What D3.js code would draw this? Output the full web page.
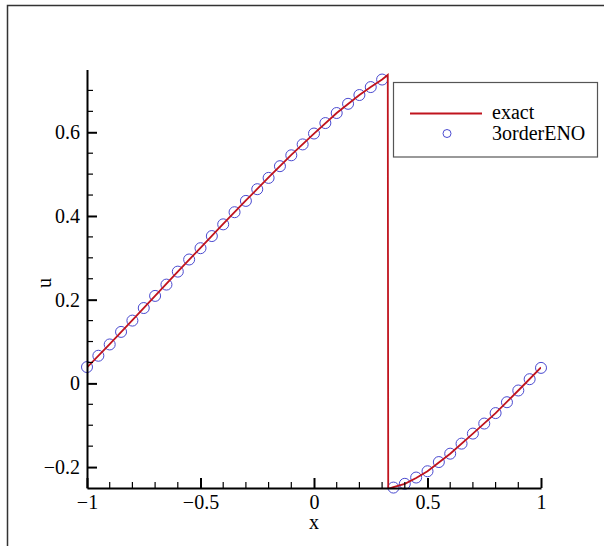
<!DOCTYPE html>
<html>
<head>
<meta charset="utf-8">
<script src="https://cdn.jsdelivr.net/npm/d3@7/dist/d3.min.js"></script>
<style>
  html, body { margin: 0; padding: 0; background: #fff; }
  svg { display: block; }
  text { font-family: "Liberation Serif", "Times New Roman", serif; fill: #000; }
</style>
</head>
<body>
<svg id="chart" width="604" height="546"></svg>
<script>
// Numerical solution (3rd-order ENO) sampled at the cell points
const enoX = [-1, -0.95, -0.9, -0.85, -0.8, -0.75, -0.7, -0.65, -0.6, -0.55,
              -0.5, -0.45, -0.4, -0.35, -0.3, -0.25, -0.2, -0.15, -0.1, -0.05,
              0, 0.05, 0.1, 0.15, 0.2, 0.25, 0.3,
              0.35, 0.4, 0.45, 0.5, 0.55, 0.6, 0.65, 0.7, 0.75, 0.8, 0.85, 0.9, 0.95, 1];
const enoU = [0.039, 0.066, 0.093, 0.123, 0.150, 0.180, 0.209, 0.236, 0.267, 0.296,
              0.323, 0.352, 0.380, 0.409, 0.436, 0.464, 0.491, 0.519, 0.545, 0.571,
              0.597, 0.622, 0.646, 0.668, 0.689, 0.708, 0.726,
              -0.249, -0.240, -0.225, -0.210, -0.188, -0.168, -0.144, -0.120, -0.096, -0.071, -0.045, -0.017, 0.010, 0.037];

// Exact solution, with the shock near x = 0.325
const exactX = [-1, -0.9, -0.8, -0.7, -0.6, -0.5, -0.4, -0.3, -0.2, -0.1,
                0, 0.1, 0.2, 0.25, 0.3, 0.325,
                0.327, 0.35, 0.4, 0.45, 0.5, 0.6, 0.7, 0.8, 0.9, 1];
const exactU = [0.038, 0.094, 0.151, 0.209, 0.267, 0.324, 0.381, 0.437, 0.492, 0.546,
                0.597, 0.646, 0.689, 0.708, 0.726, 0.737,
                -0.252, -0.248, -0.240, -0.226, -0.210, -0.168, -0.120, -0.071, -0.017, 0.038];

const xMajor = [-1, -0.5, 0, 0.5, 1];
const xMajorLabels = ["\u22121", "\u22120.5", "0", "0.5", "1"];
const yMajor = [-0.2, 0, 0.2, 0.4, 0.6];
const yMajorLabels = ["\u22120.2", "0", "0.2", "0.4", "0.6"];
const xMinor = [-0.9, -0.8, -0.7, -0.6, -0.4, -0.3, -0.2, -0.1, 0.1, 0.2, 0.3, 0.4, 0.6, 0.7, 0.8, 0.9];
const yMinor = [-0.15, -0.1, -0.05, 0.05, 0.1, 0.15, 0.25, 0.3, 0.35, 0.45, 0.5, 0.55, 0.65, 0.7];

const legendNames = ["exact", "3orderENO"];
const lineColor = "#c0141e";
const markColor = "#4a4ad0";

const svg = d3.select("#chart");

// outer frame (top and left edges)
svg.append("path")
  .attr("d", "M7.5,546 L7.5,5.5 L604,5.5")
  .attr("fill", "none").attr("stroke", "#333").attr("stroke-width", 1.5);

const x = d3.scaleLinear().domain([-1, 1]).range([87, 541]);
const y = d3.scaleLinear().domain([-0.25, 0.75]).range([488, 69.5]);

const plot = svg.append("g");
plot.append("defs").append("clipPath").attr("id", "clip")
  .append("rect").attr("x", 87).attr("y", 69).attr("width", 454).attr("height", 420);

// ENO markers
plot.append("g").selectAll("circle")
  .data(enoX.map((d, i) => [d, enoU[i]]))
  .join("circle")
  .attr("cx", d => x(d[0])).attr("cy", d => y(d[1]))
  .attr("r", 5.5)
  .attr("fill", "none").attr("stroke", markColor).attr("stroke-width", 1);

// exact solution line
const line = d3.line().x(d => x(d[0])).y(d => y(d[1]));
plot.append("path")
  .datum(exactX.map((d, i) => [d, exactU[i]]))
  .attr("d", line)
  .attr("fill", "none").attr("stroke", lineColor).attr("stroke-width", 1.8)
  .attr("clip-path", "url(#clip)");

// axes: ticks point inward
const axisG = svg.append("g");
const xAxis = d3.axisBottom(x).tickValues(xMajor).tickSizeInner(-10).tickSizeOuter(0)
  .tickFormat((d, i) => xMajorLabels[i]).tickPadding(14);
const xg = axisG.append("g").attr("transform", "translate(0,488)").call(xAxis);
xg.select(".domain").attr("stroke", "#000").attr("stroke-width", 2);
xg.selectAll(".tick line").attr("stroke", "#000").attr("stroke-width", 2);
xg.selectAll(".tick text").attr("font-size", 20).attr("font-family", "Liberation Serif").attr("dy", "0.71em").attr("y", 7);
xg.append("g").selectAll("line").data(xMinor).join("line")
  .attr("x1", d => x(d)).attr("x2", d => x(d)).attr("y1", 0).attr("y2", -6)
  .attr("stroke", "#000").attr("stroke-width", 1.2);

const yAxis = d3.axisLeft(y).tickValues(yMajor).tickSizeInner(-10).tickSizeOuter(0)
  .tickFormat((d, i) => yMajorLabels[i]).tickPadding(17);
const yg = axisG.append("g").attr("transform", "translate(87,0)").call(yAxis);
yg.select(".domain").attr("stroke", "#000").attr("stroke-width", 2);
yg.selectAll(".tick line").attr("stroke", "#000").attr("stroke-width", 2);
yg.selectAll(".tick text").attr("font-size", 20).attr("font-family", "Liberation Serif").attr("x", -7);
yg.append("g").selectAll("line").data(yMinor).join("line")
  .attr("y1", d => y(d)).attr("y2", d => y(d)).attr("x1", 0).attr("x2", 6)
  .attr("stroke", "#000").attr("stroke-width", 1.2);

// axis titles
svg.append("text").attr("x", 314).attr("y", 529).attr("text-anchor", "middle")
  .attr("font-size", 20).text("x");
svg.append("text").attr("transform", "translate(51,283) rotate(-90)")
  .attr("text-anchor", "middle").attr("font-size", 20).text("u");

// legend
const lg = svg.append("g");
lg.append("rect").attr("x", 393.5).attr("y", 82.5).attr("width", 204).attr("height", 74.5)
  .attr("fill", "#fff").attr("stroke", "#555").attr("stroke-width", 1.2);
lg.append("line").attr("x1", 410).attr("x2", 482).attr("y1", 113.5).attr("y2", 113.5)
  .attr("stroke", lineColor).attr("stroke-width", 2);
lg.append("circle").attr("cx", 447).attr("cy", 133.5).attr("r", 4)
  .attr("fill", "none").attr("stroke", markColor).attr("stroke-width", 1);
lg.selectAll("text.leg").data(legendNames).join("text").attr("class", "leg")
  .attr("x", 492).attr("y", (d, i) => 119 + i * 21)
  .attr("font-size", 20).text(d => d);
</script>
</body>
</html>
